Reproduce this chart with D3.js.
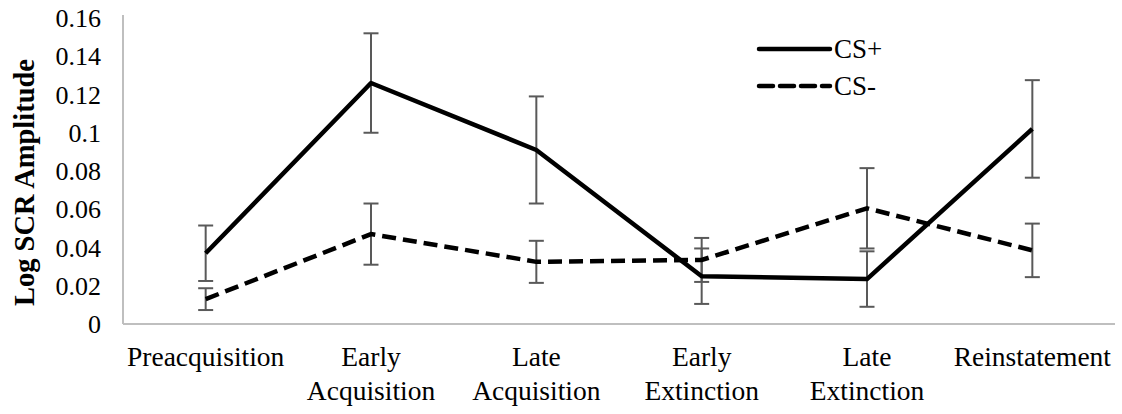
<!DOCTYPE html>
<html>
<head>
<meta charset="utf-8">
<script src="https://cdn.jsdelivr.net/npm/d3@7"></script>
<style>
  body { margin: 0; background: #fff; }
</style>
</head>
<body>
<div id="chart-container"></div>
<script>
// Data
const categories = ["Preacquisition", "Early Acquisition", "Late Acquisition", "Early Extinction", "Late Extinction", "Reinstatement"];
const categoryLines = [["Preacquisition"], ["Early", "Acquisition"], ["Late", "Acquisition"], ["Early", "Extinction"], ["Late", "Extinction"], ["Reinstatement"]];
const csPlus = [0.037, 0.126, 0.091, 0.025, 0.0235, 0.102];
const csPlusErr = [0.0145, 0.026, 0.028, 0.0145, 0.0145, 0.0255];
const csMinus = [0.013, 0.047, 0.0325, 0.0335, 0.0605, 0.0385];
const csMinusErr = [0.0057, 0.016, 0.011, 0.0115, 0.021, 0.014];
const yTicks = [0, 0.02, 0.04, 0.06, 0.08, 0.1, 0.12, 0.14, 0.16];

const W = 1122, H = 414;
const plot = {left: 123, right: 1115, top: 18, bottom: 324};
const serif = '"Liberation Serif", "Times New Roman", serif';

const svg = d3.select("#chart-container")
    .append("svg")
    .attr("width", W)
    .attr("height", H)
    .style("font-family", serif);

// SCALES
const x = d3.scaleBand().domain(categories).range([plot.left, plot.right]);
const y = d3.scaleLinear().domain([0, 0.16]).range([plot.bottom, plot.top]);
const cx = c => x(c) + x.bandwidth() / 2;

// AXES
const yAxis = svg.append("g")
    .attr("transform", `translate(${plot.left},0)`)
    .call(d3.axisLeft(y).tickValues(yTicks).tickSize(0).tickPadding(22).tickFormat(d => d3.format("~g")(d)));
yAxis.attr("font-family", null).attr("font-size", null);
yAxis.select(".domain").remove();
yAxis.selectAll("text")
    .style("font-family", serif)
    .style("font-size", "26px")
    .attr("fill", "#000")
    .attr("dy", "0.33em");

svg.append("line")
    .attr("x1", plot.left).attr("x2", plot.left)
    .attr("y1", y(0.16) - 3).attr("y2", y(0))
    .attr("stroke", "#bfbfbf").attr("stroke-width", 2);
svg.append("line")
    .attr("x1", plot.left).attr("x2", plot.right)
    .attr("y1", y(0)).attr("y2", y(0))
    .attr("stroke", "#bfbfbf").attr("stroke-width", 2);

// category labels (wrapped)
const catLabels = svg.append("g").selectAll("text")
    .data(categories)
    .join("text")
    .attr("x", d => cx(d))
    .attr("y", 366)
    .attr("text-anchor", "middle")
    .style("font-family", serif)
    .style("font-size", "27.5px");
catLabels.each(function(d, i) {
    d3.select(this).selectAll("tspan")
        .data(categoryLines[i])
        .join("tspan")
        .attr("x", cx(d))
        .attr("dy", (t, j) => j === 0 ? 0 : 34)
        .text(t => t);
});

// y title
svg.append("text")
    .attr("transform", `translate(34,${(58 + 307) / 2}) rotate(-90)`)
    .attr("text-anchor", "middle")
    .style("font-family", serif)
    .style("font-size", "28.5px")
    .style("font-weight", "bold")
    .text("Log SCR Amplitude");

// ERROR BARS
function errorBars(vals, errs) {
    const g = svg.append("g").attr("stroke", "#595959").attr("stroke-width", 2);
    categories.forEach((c, i) => {
        const hi = y(vals[i] + errs[i]), lo = y(vals[i] - errs[i]);
        g.append("line").attr("x1", cx(c)).attr("x2", cx(c)).attr("y1", hi).attr("y2", lo);
        g.append("line").attr("x1", cx(c) - 7.5).attr("x2", cx(c) + 7.5).attr("y1", hi).attr("y2", hi);
        g.append("line").attr("x1", cx(c) - 7.5).attr("x2", cx(c) + 7.5).attr("y1", lo).attr("y2", lo);
    });
}
errorBars(csPlus, csPlusErr);
errorBars(csMinus, csMinusErr);

// LINES
const line = d3.line().x((d, i) => cx(categories[i])).y(d => y(d));

svg.append("path")
    .datum(csMinus)
    .attr("fill", "none")
    .attr("stroke", "#000")
    .attr("stroke-width", 4.5)
    .attr("stroke-dasharray", "14,7")
    .attr("d", line);

svg.append("path")
    .datum(csPlus)
    .attr("fill", "none")
    .attr("stroke", "#000")
    .attr("stroke-width", 4.5)
    .attr("stroke-linejoin", "round")
    .attr("d", line);

// LEGEND
const legend = [
    {name: "CS+", dash: null, ly: 49},
    {name: "CS-", dash: "14,7", ly: 86}
];
legend.forEach(l => {
    svg.append("line")
        .attr("x1", 759).attr("x2", 830)
        .attr("y1", l.ly).attr("y2", l.ly)
        .attr("stroke", "#000")
        .attr("stroke-width", 4.5)
        .attr("stroke-linecap", "round")
        .attr("stroke-dasharray", l.dash);
    svg.append("text")
        .attr("x", 834).attr("y", l.ly + 9)
        .style("font-family", serif)
        .style("font-size", "27px")
        .text(l.name);
});
</script>
</body>
</html>
